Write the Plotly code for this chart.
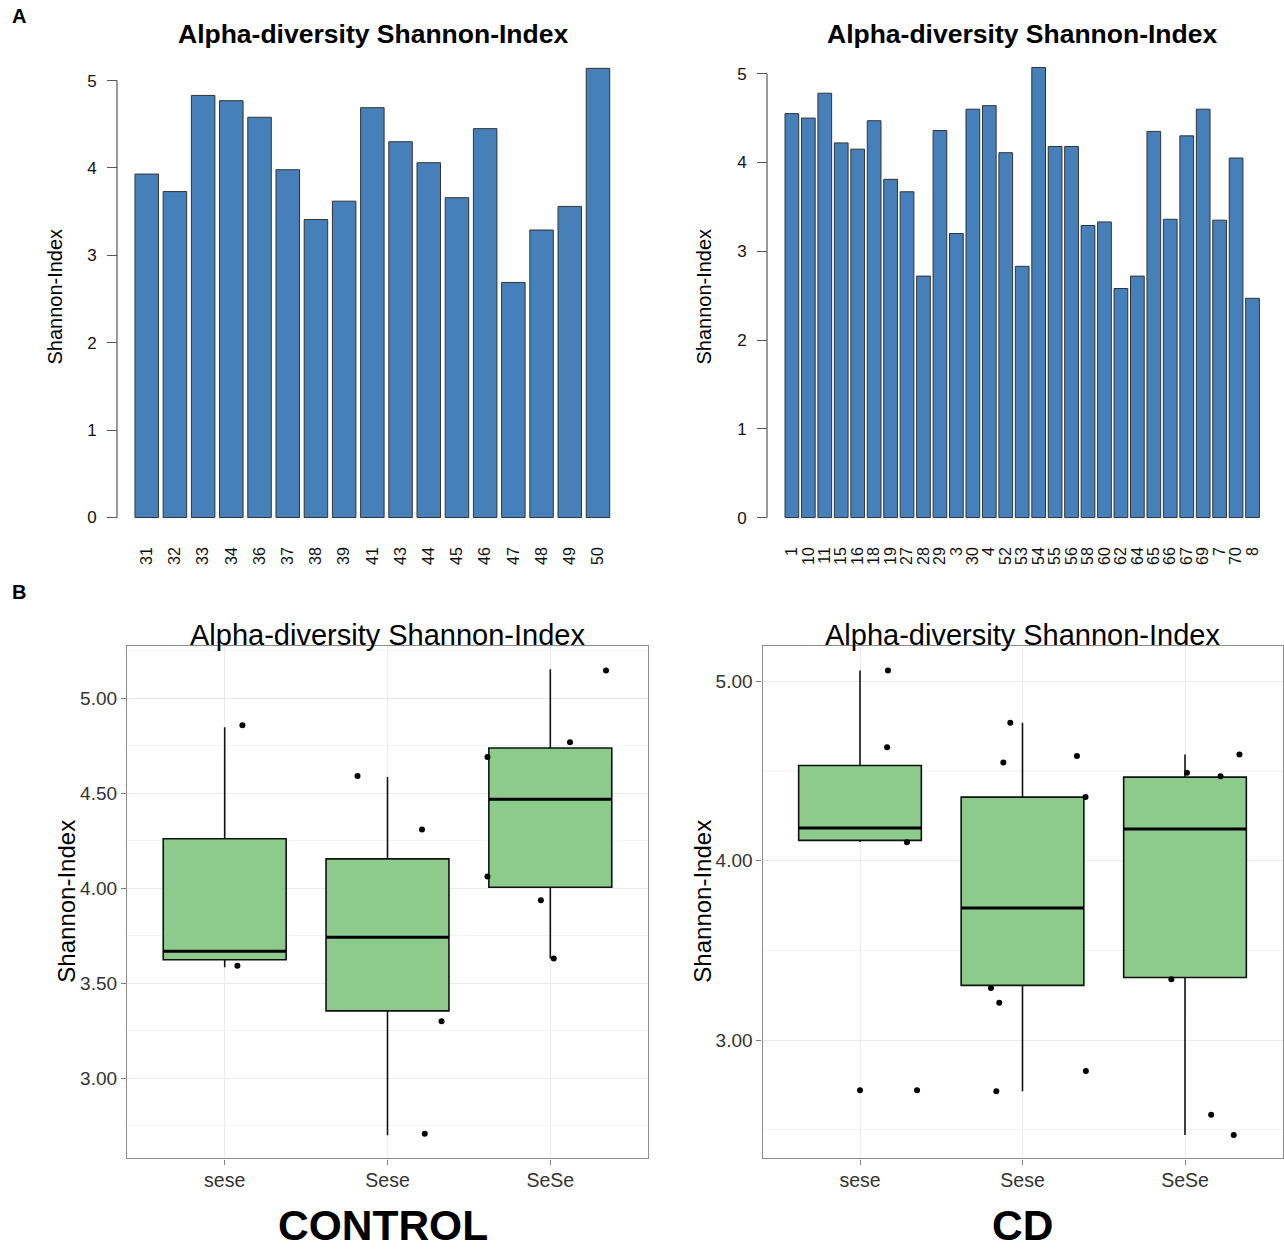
import plotly.graph_objects as go

# ---------------- data ----------------
control_ids = ['31', '32', '33', '34', '36', '37', '38', '39', '41', '43', '44', '45', '46', '47', '48', '49', '50']
control_shannon = [3.93, 3.73, 4.83, 4.77, 4.58, 3.98, 3.41, 3.62, 4.69, 4.30, 4.06, 3.66, 4.45, 2.69, 3.29, 3.56, 5.14]

cd_ids = ['1', '10', '11', '15', '16', '18', '19', '27', '28', '29', '3', '30', '4', '52', '53', '54', '55',
          '56', '58', '60', '62', '64', '65', '66', '67', '69', '7', '70', '8']
cd_shannon = [4.55, 4.50, 4.78, 4.22, 4.15, 4.47, 3.81, 3.67, 2.72, 4.36, 3.20, 4.60, 4.64, 4.11, 2.83, 5.07, 4.18,
              4.18, 3.29, 3.33, 2.58, 2.72, 4.35, 3.36, 4.30, 4.60, 3.35, 4.05, 2.47]

bar_yticks = [0, 1, 2, 3, 4, 5]

genotypes = ['sese', 'Sese', 'SeSe']

ctrl_q1 = [3.623, 3.354, 4.005]
ctrl_median = [3.668, 3.742, 4.468]
ctrl_q3 = [4.260, 4.154, 4.738]
ctrl_lower = [3.584, 2.700, 3.630]
ctrl_upper = [4.847, 4.585, 5.152]

ctrl_pt_group = [0, 0, 1, 1, 1, 1, 2, 2, 2, 2, 2, 2]
ctrl_pt_value = [4.857, 3.592, 4.590, 4.309, 3.300, 2.707, 5.145, 4.768, 4.690, 4.061, 3.937, 3.630]
ctrl_pt_jitter = [0.109, 0.078, -0.184, 0.212, 0.332, 0.229, 0.342, 0.121, -0.386, -0.386, -0.058, 0.021]

cd_q1 = [4.114, 3.305, 3.349]
cd_median = [4.183, 3.737, 4.177]
cd_q3 = [4.532, 4.355, 4.467]
cd_lower = [4.105, 2.715, 2.471]
cd_upper = [5.061, 4.770, 4.593]

cd_pt_group = [0, 0, 0, 0, 0, 1, 1, 1, 1, 1, 1, 1, 1, 2, 2, 2, 2, 2, 2]
cd_pt_value = [5.061, 4.633, 4.103, 2.720, 2.720, 4.770, 4.548, 4.585, 4.356, 3.291, 3.208, 2.828, 2.715,
               4.491, 4.471, 4.593, 3.340, 2.584, 2.471]
cd_pt_jitter = [0.172, 0.167, 0.289, 0.0, 0.351, -0.075, -0.118, 0.335, 0.388, -0.194, -0.143, 0.39, -0.161,
                0.012, 0.219, 0.335, -0.084, 0.161, 0.30]

# ---------------- styling ----------------
W, H = 1284, 1252
FONT = "Liberation Sans, Arial, Helvetica, sans-serif"
BAR_COLOR = "#4580BA"
BOX_FILL = "#8CCB8C"
BOX_WIDTH = 0.755


def px(x):
    return x / W


def py(y):
    return 1 - y / H


fig = go.Figure()

# top bar charts
fig.add_trace(go.Bar(x=control_ids, y=control_shannon, marker=dict(color=BAR_COLOR, line=dict(color="#333333", width=1)),
                     xaxis="x", yaxis="y", showlegend=False))
fig.add_trace(go.Bar(x=cd_ids, y=cd_shannon, marker=dict(color=BAR_COLOR, line=dict(color="#333333", width=1)),
                     xaxis="x2", yaxis="y2", showlegend=False))


def add_box_panel(xa, ya, q1, med, q3, lo, hi, g, vals, jit):
    fig.add_trace(go.Box(x=list(range(len(genotypes))), q1=q1, median=med, q3=q3, lowerfence=lo, upperfence=hi,
                         width=BOX_WIDTH, fillcolor=BOX_FILL, line=dict(color="#111111", width=1.6),
                         whiskerwidth=0, boxpoints=False, xaxis=xa, yaxis=ya, showlegend=False,
                         hoverinfo="skip"))
    mx, my = [], []
    for i, m in enumerate(med):
        mx += [i - BOX_WIDTH / 2, i + BOX_WIDTH / 2, None]
        my += [m, m, None]
    fig.add_trace(go.Scatter(x=mx, y=my, mode="lines", line=dict(color="#000000", width=3),
                             xaxis=xa, yaxis=ya, showlegend=False, hoverinfo="skip"))
    fig.add_trace(go.Scatter(x=[gi + j for gi, j in zip(g, jit)], y=vals, mode="markers",
                             marker=dict(color="#000000", size=6), xaxis=xa, yaxis=ya, showlegend=False))


add_box_panel("x3", "y3", ctrl_q1, ctrl_median, ctrl_q3, ctrl_lower, ctrl_upper,
              ctrl_pt_group, ctrl_pt_value, ctrl_pt_jitter)
add_box_panel("x4", "y4", cd_q1, cd_median, cd_q3, cd_lower, cd_upper,
              cd_pt_group, cd_pt_value, cd_pt_jitter)

bar_x_common = dict(type="category", showline=False, ticks="", showgrid=False, zeroline=False,
                    tickangle=-90, tickfont=dict(size=16, color="#111111", family=FONT),
                    ticklabelstandoff=21)
bar_y_common = dict(range=[-0.05, 5.2], tickvals=bar_yticks, ticks="outside", ticklen=10, tickcolor="#555555",
                    showline=False, showgrid=False, zeroline=False, anchor="free",
                    tickfont=dict(size=17, color="#111111", family=FONT), ticklabelstandoff=7)

box_x_common = dict(range=[-0.6, 2.6], tickvals=[0, 1, 2], ticktext=genotypes, showline=True, mirror=True,
                    linecolor="#8C8C8C", linewidth=1.2, ticks="outside", ticklen=5, tickcolor="#7F7F7F",
                    showgrid=True, gridcolor="#EBEBEB", gridwidth=1, zeroline=False, ticklabelstandoff=-1,
                    tickfont=dict(size=19.5, color="#333333", family=FONT))
box_y_common = dict(showline=True, mirror=True, linecolor="#8C8C8C", linewidth=1.2, ticks="outside", ticklen=5,
                    tickcolor="#7F7F7F", showgrid=True, gridcolor="#EBEBEB", gridwidth=1, zeroline=False,
                    tickformat=".2f", tickfont=dict(size=19, color="#333333", family=FONT),
                    minor=dict(showgrid=True, gridcolor="#F4F4F4", gridwidth=1))

fig.update_layout(
    width=W, height=H, margin=dict(l=0, r=0, t=0, b=0),
    paper_bgcolor="white", plot_bgcolor="white",
    font=dict(family=FONT, color="#111111"),
    bargap=1 / 6,
    xaxis=dict(domain=[px(129.8), px(614.9)], anchor="y", range=[-0.6, 16.6], **bar_x_common),
    yaxis=dict(domain=[py(524.4), py(63.4)], position=px(117), **bar_y_common),
    xaxis2=dict(domain=[px(782.0), px(1262.4)], anchor="y2", range=[-0.6, 28.6],
                tickmode="array", tickvals=cd_ids, ticktext=cd_ids, **bar_x_common),
    yaxis2=dict(domain=[py(524.5), py(56.2)], position=px(767), **bar_y_common),
    xaxis3=dict(domain=[px(127), px(648)], anchor="y3", **box_x_common),
    yaxis3=dict(domain=[py(1164), py(649.5)], anchor="x3", range=[2.5775, 5.2725], dtick=0.5, tick0=0,
                **box_y_common),
    xaxis4=dict(domain=[px(762.5), px(1282.5)], anchor="y4", **box_x_common),
    yaxis4=dict(domain=[py(1164), py(649.5)], anchor="x4", range=[2.34, 5.196], dtick=1, tick0=0,
                **box_y_common),
)
fig.layout.yaxis3.minor.dtick = 0.25
fig.layout.yaxis3.minor.tick0 = 0
fig.layout.yaxis4.minor.dtick = 0.5
fig.layout.yaxis4.minor.tick0 = 0

# axis lines of base-R style bar charts (span first to last tick)
for xpos, yref in [(117, "y"), (767, "y2")]:
    fig.add_shape(type="line", xref="paper", x0=px(xpos), x1=px(xpos), yref=yref,
                  y0=bar_yticks[0], y1=bar_yticks[-1], line=dict(color="#555555", width=1.2))


def ann(text, x, y, size, bold=False, angle=0, color="#000000"):
    fig.add_annotation(text=f"<b>{text}</b>" if bold else text, x=px(x), y=py(y), xref="paper", yref="paper",
                       showarrow=False, xanchor="center", yanchor="middle", textangle=angle,
                       font=dict(size=size, color=color, family=FONT))


ann("A", 19, 16, 20, bold=True)
ann("B", 19, 595, 20, bold=True)
ann("Alpha-diversity Shannon-Index", 373, 34, 26.5, bold=True)
ann("Alpha-diversity Shannon-Index", 1022, 34, 26.5, bold=True)
ann("Shannon-Index", 55, 298, 20, angle=-90)
ann("Shannon-Index", 704, 298, 20, angle=-90)
ann("Alpha-diversity Shannon-Index", 387, 638, 29)
ann("Alpha-diversity Shannon-Index", 1022, 638, 29)
ann("Shannon-Index", 67, 906, 24, angle=-90)
ann("Shannon-Index", 703, 906, 24, angle=-90)
ann("CONTROL", 383, 1231, 42.5, bold=True)
ann("CD", 1022, 1231, 42.5, bold=True)

fig.write_html("out.html", config={"displayModeBar": False},
               post_script="document.body.style.margin='0';document.body.style.overflow='hidden';")
